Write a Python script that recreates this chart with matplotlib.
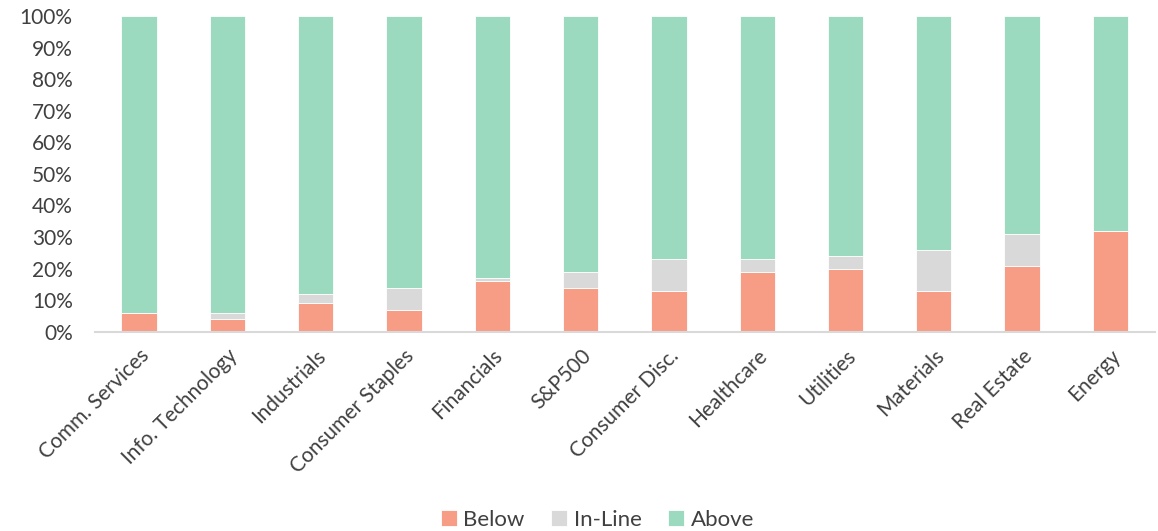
import matplotlib
matplotlib.use("Agg")
import matplotlib.pyplot as plt
from matplotlib.ticker import PercentFormatter

plt.rcParams["font.family"] = ["Lato", "DejaVu Sans"]

# Share of companies reporting below / in line with / above estimates
sectors = [
    "Comm. Services", "Info. Technology", "Industrials", "Consumer Staples",
    "Financials", "S&P500", "Consumer Disc.", "Healthcare", "Utilities",
    "Materials", "Real Estate", "Energy",
]
below = [6, 4, 9, 7, 16, 14, 13, 19, 20, 13, 21, 32]
in_line = [0, 2, 3, 7, 1, 5, 10, 4, 4, 13, 10, 0]
above = [100 - b - i for b, i in zip(below, in_line)]

colors = {"Below": "#F79D86", "In-Line": "#D9D9D9", "Above": "#9BDABF"}
text_color = "#404040"

fig = plt.figure(figsize=(11.58, 5.31), dpi=100)
ax = fig.add_axes([0.082, 0.375, 0.915, 0.595])

x = range(len(sectors))
bottom_inline = below
bottom_above = [b + i for b, i in zip(below, in_line)]
ax.bar(x, below, width=0.4, color=colors["Below"], label="Below",
       edgecolor="white", linewidth=0.6)
ax.bar(x, in_line, width=0.4, bottom=bottom_inline, color=colors["In-Line"],
       label="In-Line", edgecolor="white", linewidth=0.6)
ax.bar(x, above, width=0.4, bottom=bottom_above, color=colors["Above"],
       label="Above", edgecolor="white", linewidth=0.6)

ax.set_xlim(-0.5, len(sectors) - 0.5)
ax.set_ylim(0, 100)
ax.set_yticks(range(0, 101, 10))
ax.yaxis.set_major_formatter(PercentFormatter(decimals=0))
ax.set_xticks(list(x))
ax.set_xticklabels(sectors, rotation=45, ha="right", rotation_mode="anchor")
ax.tick_params(axis="both", length=0, labelsize=15, colors=text_color)
ax.tick_params(axis="x", pad=10)
ax.tick_params(axis="y", pad=16)

for side in ("top", "right", "left"):
    ax.spines[side].set_visible(False)
ax.spines["bottom"].set_color("#D9D9D9")
ax.spines["bottom"].set_linewidth(1.5)

leg = fig.legend(loc="lower center", bbox_to_anchor=(0.516, -0.035), ncol=3,
                 frameon=False, fontsize=16, handlelength=0.7, handleheight=0.7,
                 handletextpad=0.3, columnspacing=1.2)
for t in leg.get_texts():
    t.set_color(text_color)

fig.savefig("out.png", dpi=100)
